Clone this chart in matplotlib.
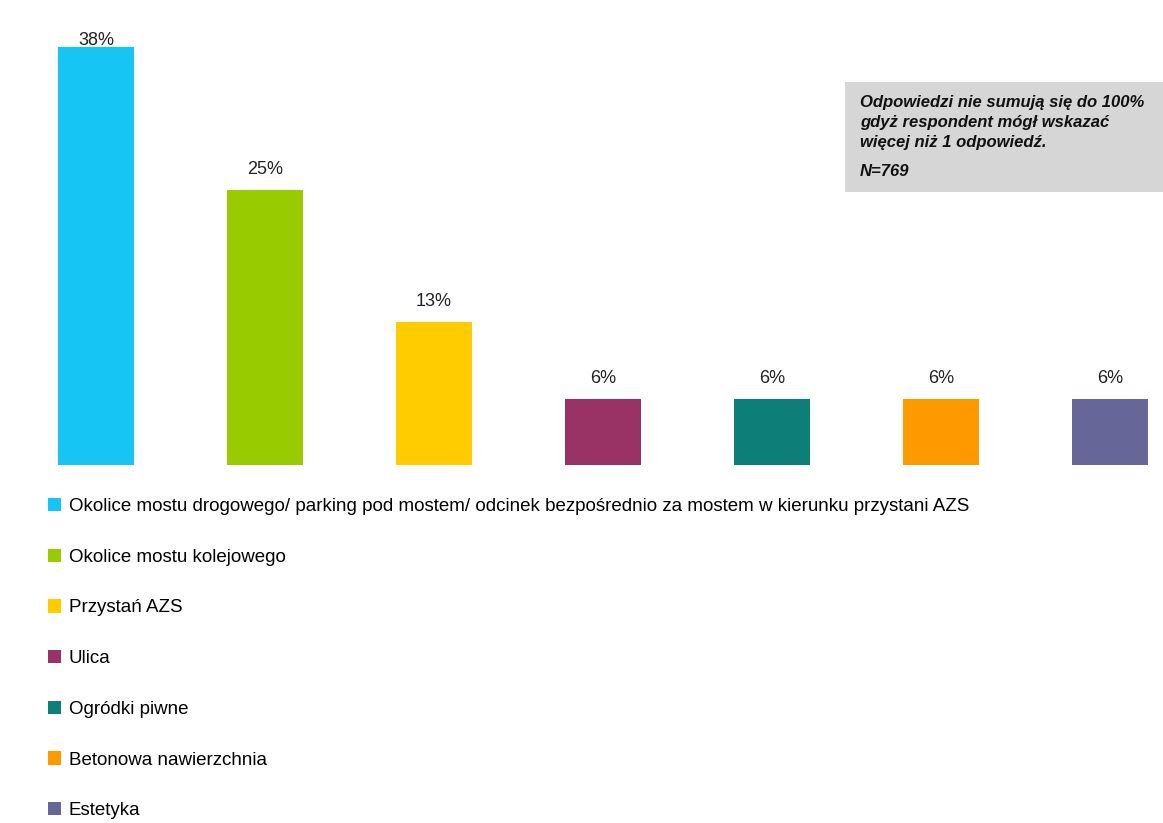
import matplotlib.pyplot as plt
from matplotlib.patches import Rectangle

plt.rcParams['font.family'] = ['Liberation Sans', 'DejaVu Sans']

categories = [
    'Okolice mostu drogowego/ parking pod mostem/ odcinek bezpośrednio za mostem w kierunku przystani AZS',
    'Okolice mostu kolejowego',
    'Przystań AZS',
    'Ulica',
    'Ogródki piwne',
    'Betonowa nawierzchnia',
    'Estetyka',
]
values = [38, 25, 13, 6, 6, 6, 6]
colors = ['#17c5f5', '#99cc00', '#ffcc00', '#993366', '#0e7f78', '#ff9900', '#666699']

note_lines = [
    'Odpowiedzi nie sumują się do 100%',
    'gdyż respondent mógł wskazać',
    'więcej niż 1 odpowiedź.',
]
note_n = 'N=769'

W, H = 1163, 823
fig = plt.figure(figsize=(W / 100, H / 100), dpi=100)

# axes spans the full width, from the bar baseline (y=465px) up to the top
ax = fig.add_axes([0, (H - 465) / H, 1, 465 / H])
step = 169.0
ax.set_xlim(-96 / step, (W - 96) / step)
ax.set_ylim(0, 465 / 11.0)

x = range(len(values))
bars = ax.bar(x, values, width=0.455, color=colors, label=categories)

for i, v in enumerate(values):
    offset = 0.6 if v > 35 else 1.85
    ax.text(i, v + offset, f'{v}%', ha='center', va='center', fontsize=13, color='#222222')

ax.axis('off')

# grey note box in the top right
box = Rectangle((845 / W, 1 - 192 / H), (W - 845) / W, 110 / H,
                transform=fig.transFigure, facecolor='#d6d6d6', edgecolor='none', zorder=0)
fig.patches.append(box)
for k, line in enumerate(note_lines):
    fig.text(860 / W, 1 - (102 + 20 * k) / H, line, fontsize=12, fontweight='bold',
             fontstyle='italic', va='center', ha='left', color='#111111')
fig.text(860 / W, 1 - 172 / H, note_n, fontsize=12, fontweight='bold',
         fontstyle='italic', va='center', ha='left', color='#111111')

fig.legend(handles=bars, labels=categories, loc='upper left',
           bbox_to_anchor=(48 / W, 1 - 498 / H), frameon=False, fontsize=13.5,
           handlelength=0.7, handleheight=0.7, handletextpad=0.4,
           labelspacing=1.79, borderpad=0, borderaxespad=0)

fig.savefig('out.png', dpi=100)
